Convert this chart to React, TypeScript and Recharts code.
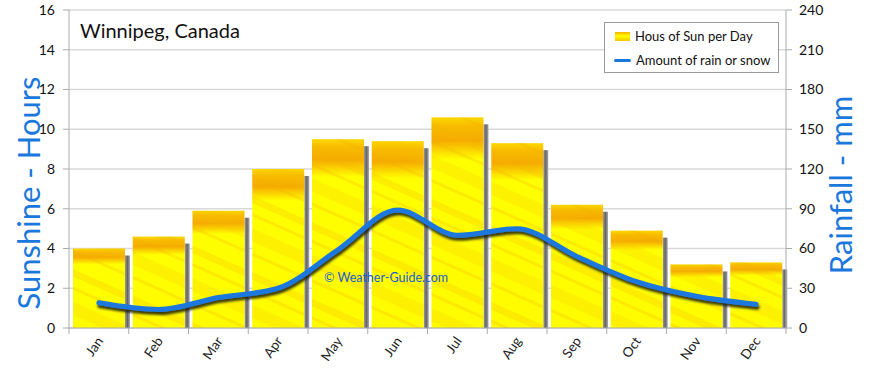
import { Bar, CartesianGrid, ComposedChart, Legend, Line, XAxis, YAxis } from "recharts";

const months = ["Jan", "Feb", "Mar", "Apr", "May", "Jun", "Jul", "Aug", "Sep", "Oct", "Nov", "Dec"];
const sunHours = [4.0, 4.6, 5.9, 8.0, 9.5, 9.4, 10.6, 9.3, 6.2, 4.9, 3.2, 3.3];
const rainMm = [19, 14, 23, 30, 59, 89, 70, 75, 54, 35, 24, 18];
const hourTicks = [0, 2, 4, 6, 8, 10, 12, 14, 16];
const rainTicks = [0, 30, 60, 90, 120, 150, 180, 210, 240];

const data = months.map((m, i) => ({ month: m, sun: sunHours[i], rain: rainMm[i] }));

const FONT = "Lato, 'Open Sans', sans-serif";
const BLUE = "#1a78dc";

function SunBar(props: any) {
  const { x, y, width, height } = props;
  if (!height || height <= 0) return null;
  return (
    <g>
      <rect x={x + width} y={y + 7} width={5} height={height - 7} fill="url(#shadeGrad)" />
      <rect x={x} y={y} width={width} height={height} fill="url(#sunBase)" />
      <rect x={x} y={y} width={width} height={height} fill="url(#sunStreaks)" />
    </g>
  );
}

function MonthTick(props: any) {
  const { x, y, payload, index } = props;
  const off = payload?.offset ?? 29.875;
  return (
    <g>
      <line x1={x - off} y1={y - 8} x2={x - off} y2={y - 2} stroke="#aaa" />
      {index === months.length - 1 && (
        <line x1={x + off} y1={y - 8} x2={x + off} y2={y - 2} stroke="#aaa" />
      )}
      <text
        x={x + 5}
        y={y + 5}
        textAnchor="end"
        fontSize={13.5}
        fill="#222"
        fontFamily={FONT}
        transform={`rotate(-55 ${x + 5} ${y + 5})`}
      >
        {payload.value}
      </text>
    </g>
  );
}

function LegendBox() {
  return (
    <div
      style={{
        width: 173,
        height: 49,
        border: "1px solid #999",
        background: "#fff",
        fontFamily: FONT,
        fontSize: 13,
        color: "#111",
        whiteSpace: "nowrap",
      }}
    >
      <div style={{ display: "flex", alignItems: "center", height: 26, paddingLeft: 10 }}>
        <span
          style={{
            display: "inline-block",
            width: 15,
            height: 9,
            background: "linear-gradient(#f5b000, #ffff00 45%, #f8c400)",
            marginRight: 5,
          }}
        />
        Hous of Sun per Day
      </div>
      <div style={{ display: "flex", alignItems: "center", height: 22, paddingLeft: 9 }}>
        <span
          style={{ display: "inline-block", width: 17, height: 3, background: BLUE, marginRight: 5, borderRadius: 2 }}
        />
        Amount of rain or snow
      </div>
    </div>
  );
}

export default function App() {
  return (
    <div style={{ position: "absolute", left: 0, top: 0, width: 870, height: 368, background: "#fff" }}>
      <ComposedChart
        width={870}
        height={368}
        data={data}
        margin={{ top: 10, right: 0, bottom: 0, left: 0 }}
        barSize={52}
      >
        <defs>
          <linearGradient id="shadeGrad" x1="0" y1="0" x2="1" y2="0">
            <stop offset="0%" stopColor="#9a9a9a" />
            <stop offset="50%" stopColor="#666" />
            <stop offset="100%" stopColor="#aaa" />
          </linearGradient>
          <linearGradient id="sunBase" x1="0" y1="0" x2="0" y2="1">
            <stop offset="0%" stopColor="#fcd800" />
            <stop offset="4%" stopColor="#f8bc00" />
            <stop offset="11%" stopColor="#f5ab00" />
            <stop offset="15%" stopColor="#fad000" />
            <stop offset="20%" stopColor="#ffff00" />
            <stop offset="100%" stopColor="#fffb00" />
          </linearGradient>
          <pattern
            id="sunStreaks"
            patternUnits="userSpaceOnUse"
            width={90}
            height={70}
            patternTransform="rotate(24)"
          >
            <rect y={6} width={90} height={7} fill="#f3b000" opacity={0.22} />
            <rect y={22} width={90} height={3} fill="#f0a800" opacity={0.22} />
            <rect y={36} width={90} height={12} fill="#f7bc00" opacity={0.2} />
            <rect y={58} width={90} height={3} fill="#f0a800" opacity={0.22} />
          </pattern>
          <filter id="lineShadow" x="-5%" y="-30%" width="110%" height="160%">
            <feDropShadow dx={1} dy={3} stdDeviation={1.3} floodColor="#1c1c00" floodOpacity={0.85} />
          </filter>
        </defs>
        <CartesianGrid vertical={false} stroke="#d9d9d9" strokeWidth={1.5} yAxisId="left" />
        <XAxis
          dataKey="month"
          height={40}
          tickLine={false}
          tickSize={6}
          tickMargin={2}
          axisLine={{ stroke: "#aaa" }}
          tick={<MonthTick />}
          interval={0}
        />
        <YAxis
          yAxisId="left"
          width={69}
          domain={[0, 16]}
          ticks={hourTicks}
          tickSize={6}
          tickMargin={8}
          axisLine={{ stroke: "#aaa" }}
          tickLine={{ stroke: "#aaa" }}
          tick={{ fontSize: 14, fill: "#111", fontFamily: FONT }}
          interval={0}
        />
        <YAxis
          yAxisId="right"
          orientation="right"
          width={84}
          domain={[0, 240]}
          ticks={rainTicks}
          tickSize={6}
          tickMargin={7}
          axisLine={{ stroke: "#aaa" }}
          tickLine={{ stroke: "#aaa" }}
          tick={{ fontSize: 14, fill: "#111", fontFamily: FONT }}
          interval={0}
        />
        <Bar yAxisId="left" dataKey="sun" name="Hous of Sun per Day" shape={<SunBar />} isAnimationActive={false} />
        <Line
          yAxisId="right"
          dataKey="rain"
          name="Amount of rain or snow"
          type="monotone"
          stroke={BLUE}
          strokeWidth={5}
          strokeLinecap="round"
          dot={false}
          activeDot={false}
          filter="url(#lineShadow)"
          isAnimationActive={false}
        />
        <Legend
          layout="vertical"
          align="center"
          verticalAlign="middle"
          content={<LegendBox />}
          wrapperStyle={{ position: "absolute", left: 604, top: 22, width: "auto", height: "auto" }}
        />
        <text x={80} y={38} fontSize={20} fill="#111" fontFamily={FONT}>
          Winnipeg, Canada
        </text>
        <text
          x={40}
          y={193}
          fontSize={31}
          fill={BLUE}
          fontFamily={FONT}
          textAnchor="middle"
          transform="rotate(-90 40 193)"
        >
          Sunshine - Hours
        </text>
        <text
          x={852}
          y={185}
          fontSize={31}
          fill={BLUE}
          fontFamily={FONT}
          textAnchor="middle"
          transform="rotate(-90 852 185)"
        >
          Rainfall - mm
        </text>
      </ComposedChart>
      <div
        style={{
          position: "absolute",
          left: 324,
          top: 270,
          fontFamily: FONT,
          fontSize: 12.5,
          color: "#1a5fd0",
          whiteSpace: "nowrap",
          pointerEvents: "none",
        }}
      >
        © Weather-Guide.com
      </div>
    </div>
  );
}
